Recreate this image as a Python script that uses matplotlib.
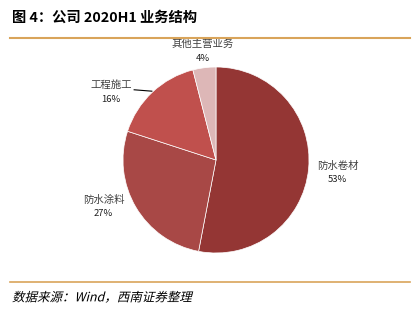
import matplotlib
matplotlib.use("Agg")
import matplotlib.pyplot as plt
from matplotlib.textpath import TextPath
from matplotlib.font_manager import FontProperties
from matplotlib.patches import PathPatch
from matplotlib.transforms import Affine2D, IdentityTransform
import numpy as np

plt.rcParams['font.family'] = ['Noto Sans CJK SC', 'DejaVu Sans']

categories = ['防水卷材', '防水涂料', '工程施工', '其他主营业务']
values = [53, 27, 16, 4]
pct_labels = ['53%', '27%', '16%', '4%']
colors = ['#943634', '#A84846', '#C0504D', '#DDB7B7']

W, H = 417, 316
DPI = 100
fig = plt.figure(figsize=(W / DPI, H / DPI), dpi=DPI)

# pie axes: centre (216,160) px, radius 93 px
R = 93
cx, cy = 216, 160
lim = 1.25
half = R * lim
ax = fig.add_axes([(cx - half) / W, (H - cy - half) / H, 2 * half / W, 2 * half / H])
wedges, _ = ax.pie(values, colors=colors, startangle=90, counterclock=False,
                   radius=1.0, wedgeprops=dict(edgecolor='white', linewidth=0.5))
ax.set_xlim(-lim, lim)
ax.set_ylim(-lim, lim)
ax.set_aspect('equal')
ax.axis('off')

# label positions (data units, relative to pie centre)
label_pos = [(1.31, -0.14), (-1.21, -0.50), (-1.13, 0.73), (-0.14, 1.17)]
for (x, y), name, pct in zip(label_pos, categories, pct_labels):
    ax.text(x, y + 0.075, name, ha='center', va='center', fontsize=7.5, color='#404040')
    ax.text(x, y - 0.075, pct, ha='center', va='center', fontsize=6.8, color='#202020')

# leader line for 工程施工
ax.plot([-0.88, -0.69], [0.755, 0.74], color='black', lw=0.8)

# title
fig.text(12 / W, 1 - 18 / H, '图 4：公司 2020H1 业务结构', ha='left', va='center',
         fontsize=10.3, fontweight='bold', color='black')
# lines
fig.add_artist(plt.Line2D([10 / W, 410 / W], [1 - 38 / H, 1 - 38 / H], color='#D9A45A', lw=1.5))
fig.add_artist(plt.Line2D([10 / W, 410 / W], [1 - 282 / H, 1 - 282 / H], color='#D9A45A', lw=1.2))

# source (fake italic via skewed text path)
src = '数据来源：Wind，西南证券整理'
fp = FontProperties(family=['Noto Sans CJK SC', 'DejaVu Sans'])
size_pt = 9.0
tp = TextPath((0, 0), src, size=size_pt, prop=fp)
tr = (Affine2D().skew_deg(14, 0).scale(DPI / 72.0)
      .translate(12, H - 297 - 0.35 * size_pt * DPI / 72.0))
patch = PathPatch(tp, transform=tr + IdentityTransform(), facecolor='black',
                  edgecolor='none', lw=0)
fig.add_artist(patch)

fig.savefig('out.png', dpi=DPI)
